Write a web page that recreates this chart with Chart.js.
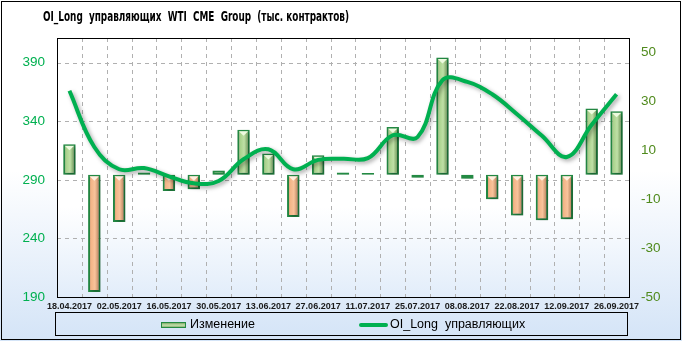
<!DOCTYPE html>
<html>
<head>
<meta charset="utf-8">
<script src="https://cdn.jsdelivr.net/npm/chart.js@4"></script>
<style>
  html, body { margin: 0; padding: 0; background: #fff; }
  #wrap { width: 682px; height: 341px; position: relative; }
</style>
</head>
<body>
<div id="wrap"><canvas id="chart"></canvas></div>
<script>
const dates = ['18.04.2017', '25.04.2017', '02.05.2017', '09.05.2017', '16.05.2017', '23.05.2017',
  '30.05.2017', '06.06.2017', '13.06.2017', '20.06.2017', '27.06.2017', '03.07.2017',
  '11.07.2017', '18.07.2017', '25.07.2017', '01.08.2017', '08.08.2017', '15.08.2017',
  '22.08.2017', '29.08.2017', '12.09.2017', '19.09.2017', '26.09.2017']
const change = [12.5, -48, -19.3, 1, -6.6, -5.9, 1.8, 18.5, 8.7, -17.3, 8, 1,
  0.8, 19.6, -1.2, 48, -1.6, -10, -16.6, -18.6, -18.2, 27.1, 26]
const oiLong = [366, 318, 299, 300, 293, 287, 289, 307.5, 316, 299, 307, 308,
  308.5, 328, 326.5, 375, 373.5, 363, 346, 327.5, 309.5, 337, 363]
const leftTicks = [190, 240, 290, 340, 390]
const rightTicks = [-50, -30, -10, 10, 30, 50]

const titleText = 'OI_Long  управляющих  WTI  CME  Group  (тыс. контрактов)'
const barName = 'Изменение'
const lineName = 'OI_Long  управляющих'

// bar fill: a horizontal gradient across each bar
function barFill(ctx) {
  const chart = ctx.chart
  const x = chart.scales.x
  const v = ctx.raw
  const flat = v >= 0 ? '#b5d99c' : '#f6bd92'
  if (!x || ctx.dataIndex === undefined) return flat
  const cx = x.getPixelForValue(ctx.dataIndex)
  if (!isFinite(cx)) return flat
  const half = 6.5
  const g = chart.ctx.createLinearGradient(cx - half, 0, cx + half, 0)
  if (v >= 0) {
    g.addColorStop(0, '#5f8c47')
    g.addColorStop(0.25, '#a9d28c')
    g.addColorStop(0.55, '#bfe0a6')
    g.addColorStop(1, '#4f7a3a')
  } else {
    g.addColorStop(0, '#b0774f')
    g.addColorStop(0.25, '#f3b486')
    g.addColorStop(0.55, '#f8c39b')
    g.addColorStop(1, '#9c6542')
  }
  return g
}

const noGrid = { color: 'rgba(0,0,0,0)', drawTicks: false }

const decor = {
  id: 'decor',
  beforeDraw(chart) {
    const { ctx, width, height, chartArea: a } = chart
    ctx.save()
    let g = ctx.createLinearGradient(0, 0, 0, height)
    g.addColorStop(0, '#ffffff')
    g.addColorStop(0.5, '#ffffff')
    g.addColorStop(1, '#d4e4f7')
    ctx.fillStyle = g
    ctx.fillRect(0, 0, width, height)
    g = ctx.createLinearGradient(0, a.top, 0, a.bottom)
    g.addColorStop(0, '#ffffff')
    g.addColorStop(0.65, '#ffffff')
    g.addColorStop(1, '#e2edfa')
    ctx.fillStyle = g
    ctx.fillRect(a.left, a.top, a.right - a.left, a.bottom - a.top)
    ctx.restore()
  },
  beforeDatasetsDraw(chart) {
    // dashed grid, taken from the scales
    const { ctx, chartArea: a, scales } = chart
    ctx.save()
    ctx.strokeStyle = '#b0b0b0'
    ctx.lineWidth = 1
    ctx.setLineDash([4, 4])
    ctx.beginPath()
    for (let i = 0; i < dates.length - 1; i++) {
      const px = Math.round((scales.x.getPixelForValue(i) + scales.x.getPixelForValue(i + 1)) / 2) + 0.5
      ctx.moveTo(px, a.top)
      ctx.lineTo(px, a.bottom)
    }
    leftTicks.forEach(v => {
      const py = Math.round(scales.y.getPixelForValue(v)) + 0.5
      ctx.moveTo(a.left, py)
      ctx.lineTo(a.right, py)
    })
    ctx.stroke()
    ctx.restore()
  },
  beforeDatasetDraw(chart) {
    const ctx = chart.ctx
    ctx.save()
    ctx.shadowColor = 'rgba(0,0,0,0.35)'
    ctx.shadowBlur = 4
    ctx.shadowOffsetX = 2
    ctx.shadowOffsetY = 2
  },
  afterDatasetDraw(chart, args) {
    const ctx = chart.ctx
    ctx.restore()
    if (args.index !== 1) return
    // little bevel triangle at the top of every bar
    ctx.save()
    chart.getDatasetMeta(1).data.forEach((el, i) => {
      const top = Math.min(el.y, el.base)
      const h = Math.abs(el.base - el.y)
      if (h < 6) return
      const l = el.x - el.width / 2 + 1.5
      const r = el.x + el.width / 2 - 1.5
      ctx.fillStyle = change[i] >= 0 ? '#eefbe0' : '#fff0e0'
      ctx.beginPath()
      ctx.moveTo(l, top + 1.5)
      ctx.lineTo(r, top + 1.5)
      ctx.lineTo(el.x, top + 6)
      ctx.closePath()
      ctx.fill()
    })
    ctx.restore()
  },
  afterDraw(chart) {
    const { ctx, width, height, chartArea: a } = chart
    ctx.save()
    // frames
    ctx.strokeStyle = '#000'
    ctx.lineWidth = 1
    ctx.strokeRect(1.5, 1.5, width - 3, height - 3)
    ctx.strokeRect(Math.round(a.left) + 0.5, Math.round(a.top) + 0.5,
      Math.round(a.right - a.left), Math.round(a.bottom - a.top))

    // title, squeezed to the width of the original
    ctx.font = 'bold 13.5px "DejaVu Sans", Arial, sans-serif'
    ctx.fillStyle = '#000'
    ctx.textBaseline = 'alphabetic'
    const tw = ctx.measureText(titleText).width
    ctx.save()
    ctx.translate(43, 21)
    ctx.scale(306 / tw, 1)
    ctx.fillText(titleText, 0, 0)
    ctx.restore()

    // legend
    ctx.strokeRect(55.5, 312.5, 572, 23)
    const sg = ctx.createLinearGradient(0, 322, 0, 329)
    sg.addColorStop(0, '#5f8c47')
    sg.addColorStop(0.45, '#c4e3ad')
    sg.addColorStop(1, '#4f7a3a')
    ctx.fillStyle = sg
    ctx.fillRect(161, 322, 25, 6)
    ctx.strokeStyle = '#238a43'
    ctx.strokeRect(161.5, 322.5, 24, 5)
    ctx.strokeStyle = '#00b050'
    ctx.lineWidth = 4
    ctx.lineCap = 'round'
    ctx.beginPath()
    ctx.moveTo(361, 325)
    ctx.lineTo(386, 325)
    ctx.stroke()
    ctx.fillStyle = '#000'
    ctx.font = '12.5px "Liberation Sans", Arial, sans-serif'
    ctx.textBaseline = 'middle'
    ctx.fillText(barName, 190, 325)
    ctx.fillText(lineName, 390, 325)
    ctx.restore()
  }
}

new Chart(document.getElementById('chart'), {
  type: 'bar',
  data: {
    labels: dates,
    datasets: [{
      type: 'line',
      label: lineName,
      data: oiLong,
      yAxisID: 'y',
      borderColor: '#00b050',
      borderWidth: 4,
      pointRadius: 0,
      tension: 0.4,
      fill: false,
      order: 0
    }, {
      type: 'bar',
      label: barName,
      data: change,
      yAxisID: 'y1',
      backgroundColor: barFill,
      borderColor: '#238a43',
      borderWidth: 2,
      borderSkipped: false,
      barPercentage: 0.5,
      categoryPercentage: 1,
      order: 1
    }]
  },
  options: {
    responsive: true,
    maintainAspectRatio: false,
    animation: false,
    devicePixelRatio: 1,
    layout: { padding: { top: 38, left: 0, right: 0, bottom: 31 } },
    plugins: {
      legend: { display: false },
      title: { display: false },
      tooltip: { enabled: false }
    },
    scales: {
      x: {
        afterFit(scale) { scale.height = 13 },
        grid: noGrid,
        border: { display: false },
        ticks: {
          autoSkip: false,
          maxRotation: 0,
          padding: 4,
          color: '#1a1a1a',
          font: { family: '"Liberation Sans", Arial, sans-serif', size: 9, weight: 'bold' },
          callback(value, index) { return index % 2 === 0 ? this.getLabelForValue(value) : '' }
        }
      },
      y: {
        position: 'left',
        min: 190,
        max: 411,
        afterFit(scale) { scale.width = 57 },
        afterBuildTicks(scale) { scale.ticks = leftTicks.map(v => ({ value: v })) },
        grid: noGrid,
        border: { display: false },
        ticks: {
          padding: 12,
          color: '#00b050',
          font: { family: '"Liberation Sans", Arial, sans-serif', size: 13.5 }
        }
      },
      y1: {
        position: 'right',
        min: -50,
        max: 56,
        afterFit(scale) { scale.width = 53 },
        afterBuildTicks(scale) { scale.ticks = rightTicks.map(v => ({ value: v })) },
        grid: { display: false, drawTicks: false },
        border: { display: false },
        ticks: {
          padding: 12,
          color: '#4f8a1c',
          font: { family: '"Liberation Sans", Arial, sans-serif', size: 13.5 }
        }
      }
    }
  },
  plugins: [decor]
})
</script>
</body>
</html>
